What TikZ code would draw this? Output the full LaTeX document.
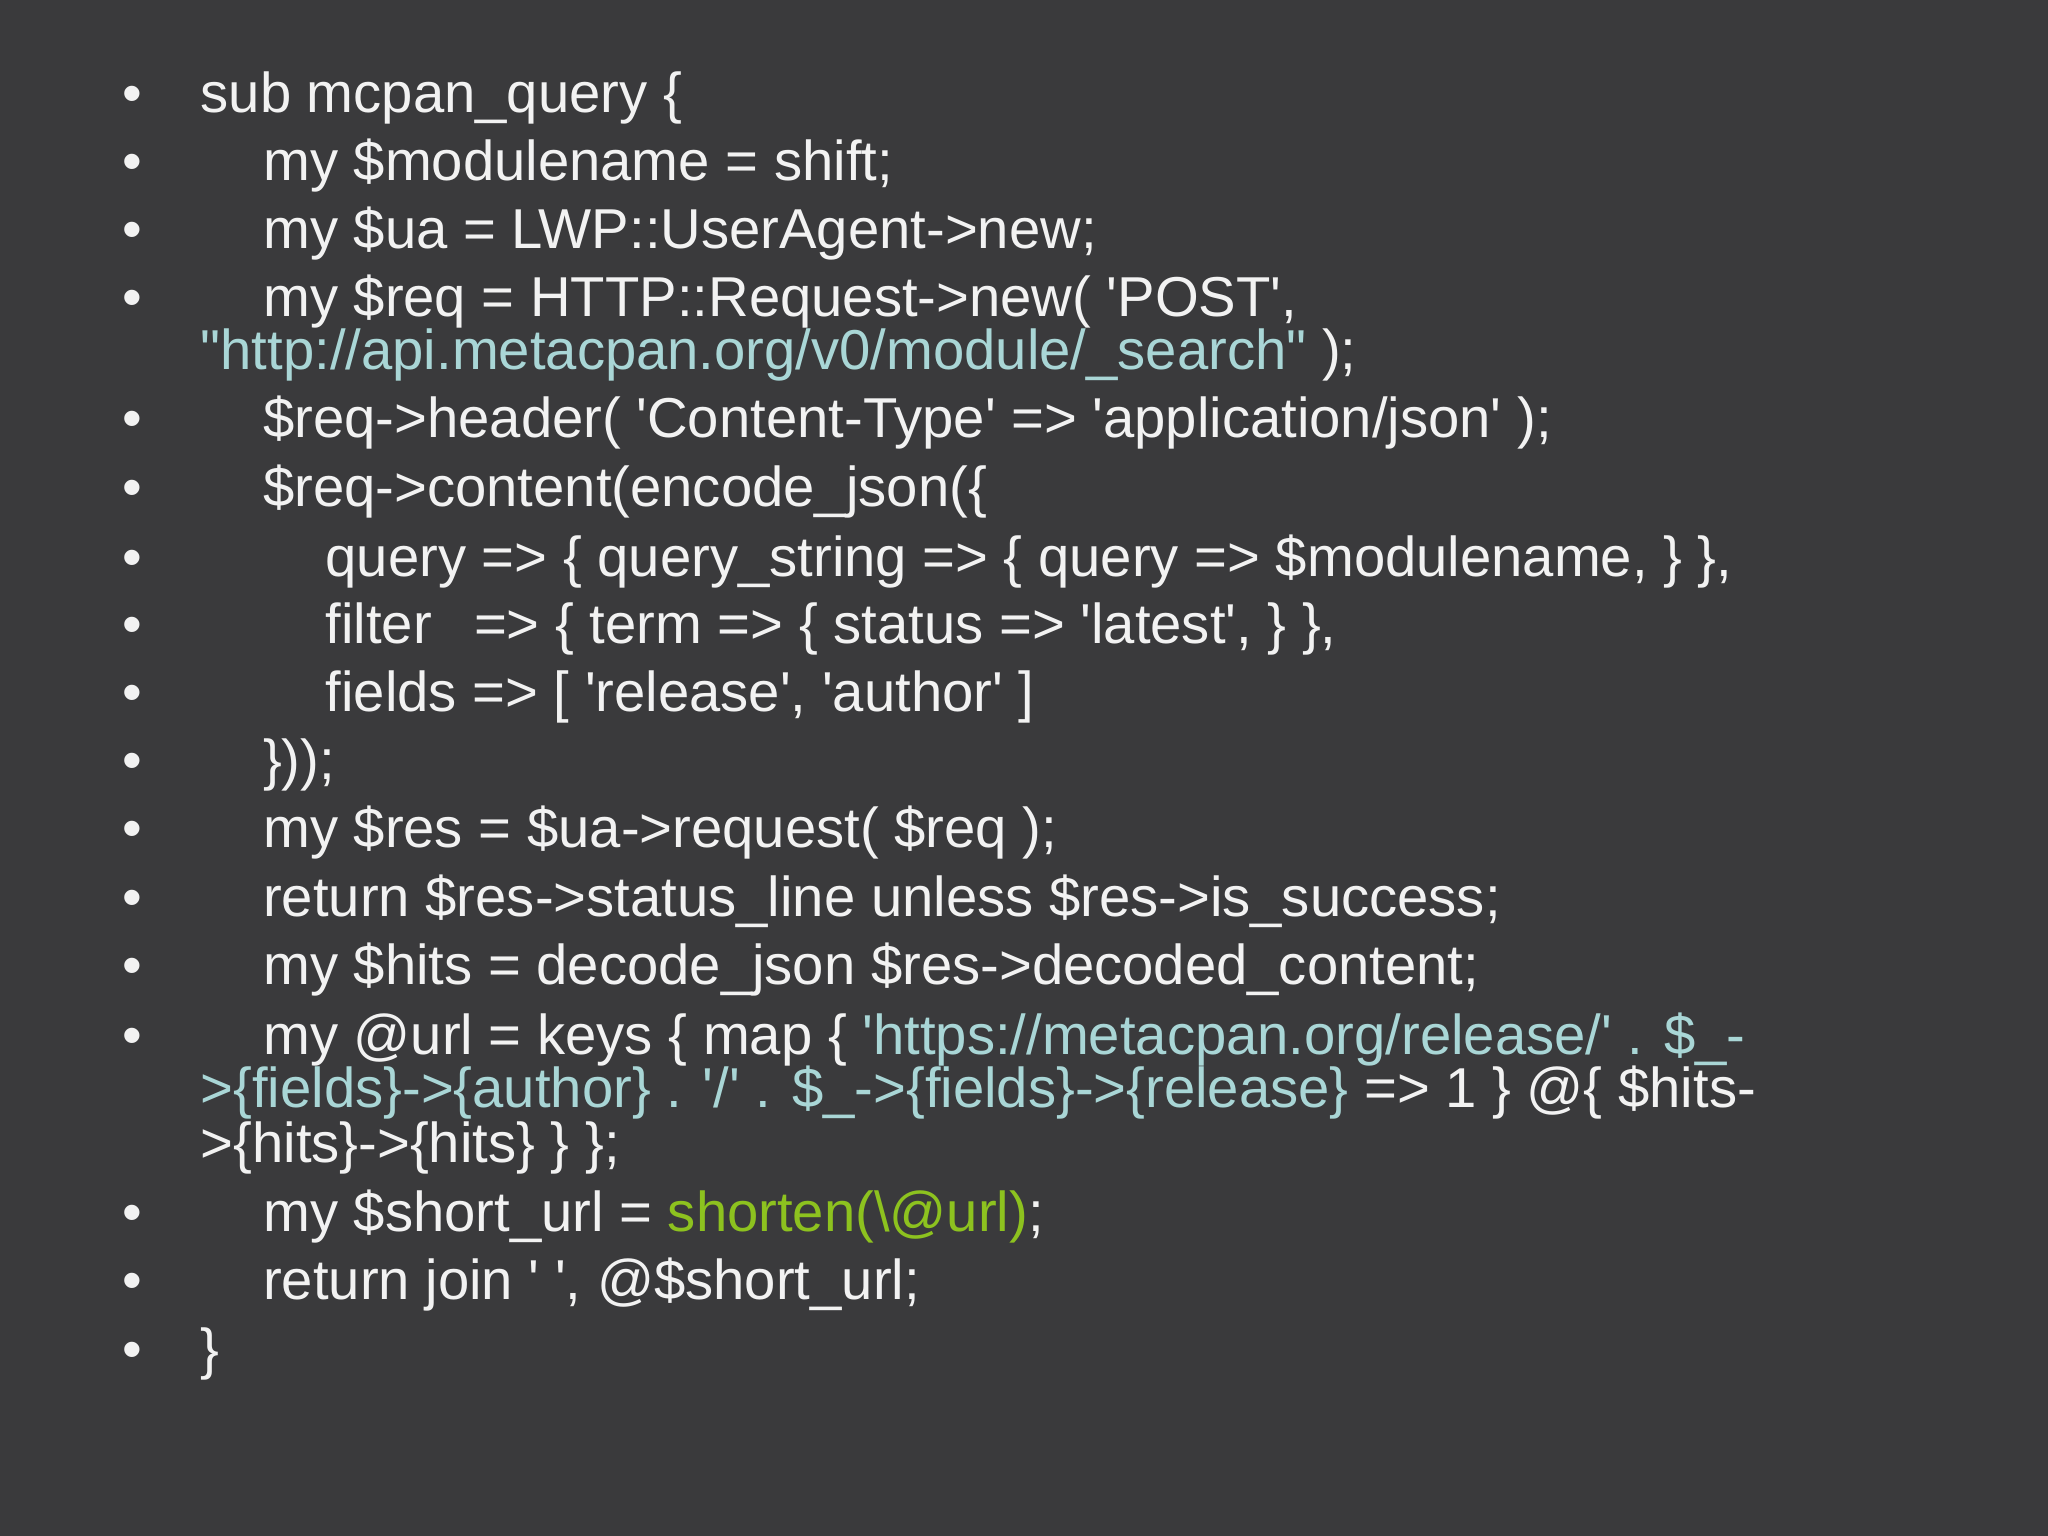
\documentclass[tikz,border=0pt]{standalone}
\usepackage{fontspec}
\setmainfont{Liberation Sans}[Ligatures=TeXOff]
\definecolor{bg}{HTML}{3A3A3C}
\definecolor{tx}{HTML}{F2F2F2}
\definecolor{url}{HTML}{A9D6D6}
\definecolor{grn}{HTML}{8DC21F}
\begin{document}
\begin{tikzpicture}[x=1cm,y=1cm,
  ln/.style={anchor=base west,inner sep=0pt,text=tx,font=\fontsize{16}{19}\selectfont},
  bul/.style={anchor=base,inner sep=0pt,text=tx,font=\fontsize{16}{19}\selectfont}]
\fill[bg] (0,0) rectangle (20.48,-15.36);
\useasboundingbox (0,0) rectangle (20.48,-15.36);
\def\A{2.00}\def\B{2.625}\def\C{3.25}
\foreach \d [count=\i] in {73,125,177,229,322,375,428,480,532,584,636,689,741,794,930,982,1035}
  \node[bul] (b\i) at (1.32,{-(\d+13)*0.01306}) {•};
\node[ln] (l1) at (\A,{-(73+13)*0.01306}) {sub mcpan\_query \{};
\node[ln] (l2) at (\B,{-(125+13)*0.01306}) {my \$modulename = shift;};
\node[ln] (l3) at (\B,{-(177+13)*0.01306}) {my \$ua = LWP::UserAgent->new;};
\node[ln] (l4) at (\B,{-(229+13)*0.01306}) {my \$req = HTTP::Request->new( 'POST',};
\node[ln] (l4b) at (\A,{-(270+13)*0.01306}) {\textcolor{url}{"http://api.metacpan.org/v0/module/\_search"} );};
\node[ln] (l5) at (\B,{-(322+13)*0.01306}) {\$req->header( 'Content-Type' => 'application/json' );};
\node[ln] (l6) at (\B,{-(375+13)*0.01306}) {\$req->content(encode\_json(\{};
\node[ln] (l7) at (\C,{-(428+13)*0.01306}) {query => \{ query\_string => \{ query => \$modulename, \} \},};
\node[ln] (l8) at (\C,{-(480+13)*0.01306}) {filter\hspace{0.75em}=> \{ term => \{ status => 'latest', \} \},};
\node[ln] (l9) at (\C,{-(532+13)*0.01306}) {fields => [ 'release', 'author' ]};
\node[ln] (l10) at (\B,{-(584+13)*0.01306}) {\}));};
\node[ln] (l11) at (\B,{-(636+13)*0.01306}) {my \$res = \$ua->request( \$req );};
\node[ln] (l12) at (\B,{-(689+13)*0.01306}) {return \$res->status\_line unless \$res->is\_success;};
\node[ln] (l13) at (\B,{-(741+13)*0.01306}) {my \$hits = decode\_json \$res->decoded\_content;};
\node[ln] (l14) at (\B,{-(794+13)*0.01306}) {my @url = keys \{ map \{ \textcolor{url}{'https://metacpan.org/release/' . \$\_-}};
\node[ln] (l14b) at (\A,{-(835+13)*0.01306}) {\textcolor{url}{>\{fields\}->\{author\} . '/' . \$\_->\{fields\}->\{release\}} => 1 \} @\{ \$hits-};
\node[ln] (l14c) at (\A,{-(877+13)*0.01306}) {>\{hits\}->\{hits\} \} \};};
\node[ln] (l15) at (\B,{-(930+13)*0.01306}) {my \$short\_url = \textcolor{grn}{shorten(\textbackslash@url)};};
\node[ln] (l16) at (\B,{-(982+13)*0.01306}) {return join ' ', @\$short\_url;};
\node[ln] (l17) at (\A,{-(1035+13)*0.01306}) {\}};
\end{tikzpicture}
\end{document}
